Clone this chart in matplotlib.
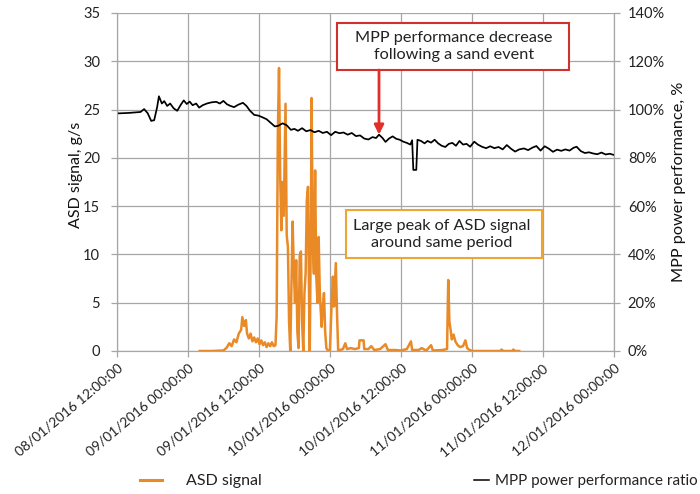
import matplotlib
matplotlib.use("Agg")
import matplotlib.pyplot as plt
import matplotlib.patches as mpatches
from matplotlib.lines import Line2D
from matplotlib.ticker import FuncFormatter

plt.rcParams['font.family'] = ['Lato', 'DejaVu Sans']

# hours after 08/01/2016 12:00:00
tick_hours = [0, 12, 24, 36, 48, 60, 72, 84]
tick_labels = ['08/01/2016 12:00:00', '09/01/2016 00:00:00', '09/01/2016 12:00:00',
               '10/01/2016 00:00:00', '10/01/2016 12:00:00', '11/01/2016 00:00:00',
               '11/01/2016 12:00:00', '12/01/2016 00:00:00']

# MPP power performance ratio (%)
mpp_hours = [0, 1, 2, 3, 4, 4.6, 5.2, 5.8, 6.3, 6.8, 7.1, 7.6, 8.0, 8.5, 9.0, 9.6, 10.2,
             10.8, 11.3, 11.8, 12.3, 12.8, 13.4, 13.9, 14.5, 15.2, 16.0, 16.8, 17.4, 18.0,
             18.6, 19.2, 19.8, 20.5, 21.3, 21.9, 22.5, 23.2, 23.9, 24.6, 25.3, 26.0, 26.7,
             27.3, 28.0, 28.7, 29.4, 30.0, 30.6, 31.3, 32.0, 32.7, 33.4, 34.1, 34.8, 35.5,
             36.2, 36.9, 37.6, 38.3, 39.0, 39.7, 40.4, 41.1, 41.8, 42.5, 43.2, 43.8, 44.3,
             44.9, 45.4, 46.0, 46.6, 47.2, 47.8, 48.4, 49.0, 49.6, 49.9, 50.1, 50.6, 50.8,
             51.4, 52.0, 52.5, 53.1, 53.7, 54.3, 54.9, 55.5, 56.1, 56.7, 57.3, 57.9, 58.5,
             59.1, 59.7, 60.4, 61.0, 61.7, 62.4, 63.1, 63.8, 64.5, 65.2, 65.9, 66.6, 67.3,
             68.0, 68.8, 69.5, 70.2, 70.9, 71.6, 72.3, 73.0, 73.7, 74.4, 75.1, 75.8, 76.5,
             77.2, 77.7, 78.4, 79.1, 79.8, 80.5, 81.2, 81.9, 82.6, 83.3, 84.0]
mpp_ratio = [98.4, 98.5, 98.6, 98.8, 99.0, 100.2, 98.5, 95.3, 95.6, 101.0, 105.5, 102.5,
             103.5, 101.5, 102.5, 100.5, 99.5, 102.0, 103.8, 102.3, 103.3, 101.8, 102.5,
             100.8, 101.8, 102.5, 103.0, 103.2, 102.5, 103.6, 102.2, 101.5, 101.0, 102.0,
             102.8, 101.5, 99.5, 97.8, 97.5, 96.8, 96.0, 94.5, 93.0, 93.3, 94.3, 93.5, 91.6,
             92.0, 91.2, 92.3, 91.0, 91.5, 90.6, 91.2, 90.3, 90.8, 89.4, 90.8, 90.2, 90.5,
             89.6, 90.3, 89.0, 89.3, 88.0, 87.6, 88.6, 88.2, 89.6, 88.2, 86.6, 88.0, 88.9,
             87.9, 87.5, 86.7, 86.2, 85.5, 87.3, 75.0, 75.0, 87.5, 87.0, 86.0, 87.0, 86.3,
             87.5, 86.0, 85.0, 84.5, 85.8, 86.2, 85.0, 87.0, 85.5, 85.8, 84.6, 86.7, 85.5,
             84.6, 84.0, 84.8, 84.0, 84.5, 83.5, 85.3, 83.8, 82.6, 83.5, 83.9, 83.2, 84.2,
             84.9, 83.0, 84.8, 83.8, 82.5, 83.4, 82.9, 83.5, 83.0, 84.2, 84.6, 82.8, 82.0,
             82.3, 81.8, 81.5, 82.2, 81.4, 81.7, 81.2]

# ASD signal (g/s)
asd_hours = [14.0, 16.0, 18.0, 18.5, 19.0, 19.4, 19.8, 20.2, 20.6, 21.0, 21.2, 21.5, 21.8,
             22.0, 22.3, 22.6, 22.9, 23.2, 23.5, 23.8, 24.1, 24.4, 24.7, 25.0, 25.3, 25.6,
             25.9, 26.2, 26.5, 26.8, 27.0, 27.2, 27.4, 27.6, 27.8, 28.0, 28.2, 28.5, 28.7,
             28.9, 29.1, 29.3, 29.5, 29.7, 29.9, 30.1, 30.3, 30.5, 30.7, 30.9, 31.1, 31.3,
             31.5, 31.7, 31.9, 32.1, 32.3, 32.5, 32.6, 32.8, 32.9, 33.1, 33.3, 33.5, 33.7,
             33.9, 34.1, 34.3, 34.6, 34.8, 35.0, 35.2, 35.4, 35.7, 36.0, 36.3, 36.5, 36.7,
             37.0, 37.2, 37.4, 37.7, 38.2, 38.6, 38.9, 39.5, 40.2, 40.9, 41.0, 41.7, 41.8,
             42.5, 43.0, 43.5, 44.5, 45.4, 45.8, 47.0, 48.0, 49.0, 49.7, 49.9, 51.0, 51.5,
             52.3, 53.1, 53.4, 55.0, 55.8, 56.0, 56.2, 56.4, 56.6, 56.9, 57.2, 57.6, 58.0,
             58.5, 58.9, 59.2, 59.6, 60.2, 64.8, 65.0, 65.3, 66.8, 67.0, 67.3, 68.0]
asd_signal = [0.0, 0.0, 0.05, 0.3, 0.8, 0.5, 1.2, 0.9, 1.8, 2.2, 3.5, 2.6, 3.2, 1.8, 1.3,
              1.8, 1.0, 1.4, 0.9, 1.3, 0.7, 1.1, 0.6, 0.9, 0.4, 0.8, 0.5, 0.9, 0.5, 0.6,
              3.6, 22.5, 29.3, 18.0, 12.5, 17.5, 14.0, 25.6, 12.0, 10.8, 3.0, 0.0, 7.0,
              13.4, 8.5, 5.0, 9.4, 2.0, 0.3, 9.8, 10.3, 3.0, 0.0, 6.0, 8.1, 15.6, 17.0,
              4.0, 0.0, 14.0, 26.2, 11.2, 8.0, 18.7, 7.7, 5.0, 11.8, 6.0, 2.5, 4.5, 6.0,
              2.0, 0.3, 0.0, 0.0, 5.0, 7.7, 4.6, 9.1, 4.0, 0.0, 0.1, 0.2, 0.8, 0.2, 0.3,
              0.2, 0.3, 1.1, 1.1, 0.2, 0.2, 0.5, 0.1, 0.2, 0.7, 0.1, 0.1, 0.05, 0.2, 1.0,
              0.1, 0.1, 0.3, 0.05, 0.6, 0.05, 0.1, 0.2, 7.35, 3.0, 2.2, 1.2, 1.7, 1.0, 0.6,
              0.4, 0.5, 1.1, 0.3, 0.1, 0.0, 0.0, 0.15, 0.0, 0.0, 0.15, 0.0, 0.0]

orange = '#E98A27'
grid_c = '#A6A6A6'
text_c = '#222222'

fig = plt.figure(figsize=(7, 4.94), dpi=100)
ax = fig.add_axes([0.167, 0.2895, 0.71, 0.6842])
ax2 = ax.twinx()

ax.plot(asd_hours, asd_signal, color=orange, lw=1.8, zorder=3)
ax2.plot(mpp_hours, [v / 100 for v in mpp_ratio], color='black', lw=1.25)

ax.set_xlim(0, 84)
ax.set_ylim(0, 35)
ax.set_yticks(range(0, 36, 5))
ax2.set_ylim(0, 1.4)
ax2.set_yticks([0, 0.2, 0.4, 0.6, 0.8, 1.0, 1.2, 1.4])
ax2.yaxis.set_major_formatter(FuncFormatter(lambda v, p: '%d%%' % round(v * 100)))

ax.set_xticks(tick_hours)
ax.set_xticklabels(tick_labels, rotation=40, ha='right', va='top', rotation_mode='anchor')
ax.grid(True, color=grid_c, lw=0.9)
ax.set_axisbelow(True)

for a in (ax, ax2):
    a.spines['top'].set_visible(False)
    for s in ('left', 'right', 'bottom'):
        a.spines[s].set_color(grid_c)
    a.tick_params(colors=grid_c, labelcolor=text_c, labelsize=10.5, length=4, width=0.9)
ax.tick_params(axis='y', pad=8)
ax.tick_params(axis='x', labelsize=10, pad=4)
ax2.tick_params(axis='y', pad=6)

ax.set_ylabel('ASD signal, g/s', fontsize=11.5, color='#111111')
ax.yaxis.set_label_coords(-0.068, 0.52)
ax2.set_ylabel('MPP power performance, %', fontsize=11.7, color='#111111', labelpad=5)

# annotation boxes
ax.add_patch(mpatches.Rectangle((37.2, 29.1), 39.2, 4.85, fc='white', ec='#D0312D',
                                lw=1.5, zorder=5))
ax.text(57.0, 31.55, 'MPP performance decrease\nfollowing a sand event', ha='center',
        va='center', fontsize=11.7, color=text_c, linespacing=1.25, zorder=6)
ax.add_patch(mpatches.Rectangle((38.7, 9.6), 33.1, 5.0, fc='white', ec='#EDA634',
                                lw=1.5, zorder=5))
ax.text(54.9, 12.1, 'Large peak of ASD signal\naround same period', ha='center',
        va='center', fontsize=11.7, color=text_c, linespacing=1.25, zorder=6)
ax.annotate('', xy=(44.3, 22.4), xytext=(44.3, 29.1), zorder=5,
            arrowprops=dict(arrowstyle='-|>', color='#E0302A', lw=2, mutation_scale=14,
                            shrinkA=0, shrinkB=0))

leg1 = fig.legend([Line2D([], [], color=orange, lw=2.2)], ['ASD signal'], loc='center left',
                  bbox_to_anchor=(0.2, 0.026), frameon=False, fontsize=11.5,
                  handlelength=1.4, handletextpad=1.45, borderpad=0, borderaxespad=0)
leg2 = fig.legend([Line2D([], [], color='black', lw=1.1)], ['MPP power performance ratio'],
                  loc='center right', bbox_to_anchor=(0.996, 0.026), frameon=False,
                  fontsize=10.9, handlelength=1.0, handletextpad=0.35, borderpad=0,
                  borderaxespad=0)
for t in leg1.get_texts() + leg2.get_texts():
    t.set_color(text_c)

fig.savefig('out.png', dpi=100)
